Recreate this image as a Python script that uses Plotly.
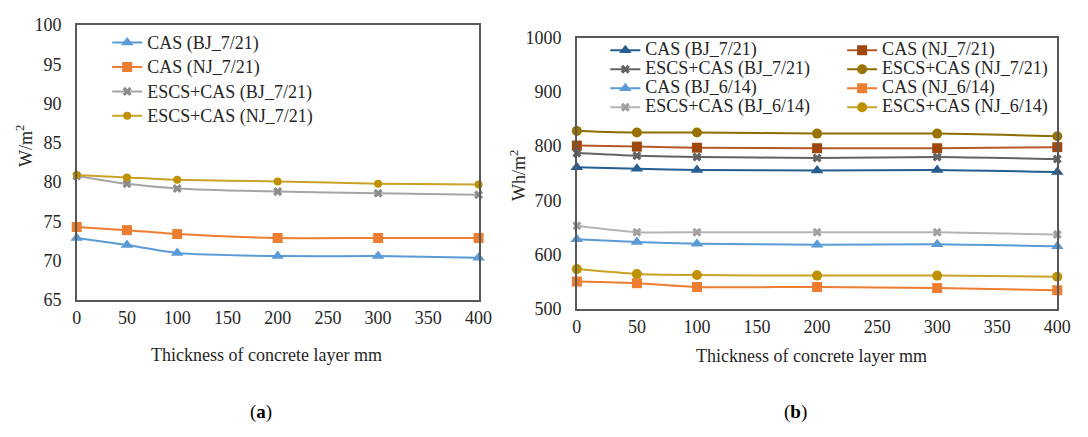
import plotly.graph_objects as go

W, H = 1088, 437

# ---------------- data ----------------
thickness = [0, 50, 100, 200, 300, 400]

# (a) W/m2
a_cas_bj_721 = [72.9, 72.0, 71.0, 70.6, 70.6, 70.4]
a_cas_nj_721 = [74.3, 73.9, 73.4, 72.9, 72.9, 72.9]
a_escs_bj_721 = [80.8, 79.8, 79.2, 78.8, 78.6, 78.4]
a_escs_nj_721 = [80.9, 80.6, 80.3, 80.1, 79.8, 79.7]

# (b) Wh/m2
b_cas_bj_721 = [761, 758, 756, 755, 756, 752]
b_cas_nj_721 = [801, 799, 797, 796, 796, 798]
b_escs_bj_721 = [787, 782, 780, 778, 780, 776]
b_escs_nj_721 = [828, 825, 825, 823, 823, 818]
b_cas_bj_614 = [628, 623, 620, 618, 619, 615]
b_cas_nj_614 = [550, 547, 540, 540, 538, 534]
b_escs_bj_614 = [653, 641, 641, 641, 641, 637]
b_escs_nj_614 = [573, 564, 562, 561, 561, 559]

x_ticks = [0, 50, 100, 150, 200, 250, 300, 350, 400]

FONT = "Liberation Serif"
TXT = "#262626"

fig = go.Figure()


def lab(t, size=18):
    return f'<span style="font-size:{size}px">{t}</span>'


def add(x, y, name, color, symbol, msize, xa, ya, legend, mcolor=None):
    fig.add_trace(go.Scatter(
        x=x, y=y, name=lab(name), mode="lines+markers",
        line=dict(color=color, width=2, shape="spline", smoothing=0.6),
        marker=dict(symbol=symbol, size=msize, color=mcolor or color,
                    line=dict(width=0)),
        xaxis=xa, yaxis=ya, legend=legend, cliponaxis=False,
    ))


# (a)
add(thickness, a_cas_bj_721, "CAS (BJ_7/21)", "#5B9BD5", "triangle-up", 11, "x", "y", "legend")
add(thickness, a_cas_nj_721, "CAS (NJ_7/21)", "#ED7D31", "square", 10, "x", "y", "legend")
add(thickness, a_escs_bj_721, "ESCS+CAS (BJ_7/21)", "#A5A5A5", "x", 8, "x", "y", "legend", "#8C8C8C")
add(thickness, a_escs_nj_721, "ESCS+CAS (NJ_7/21)", "#C9A227", "circle", 8, "x", "y", "legend", "#BF9000")

# (b)
add(thickness, b_cas_bj_721, "CAS (BJ_7/21)", "#255E91", "triangle-up", 11, "x2", "y2", "legend2")
add(thickness, b_cas_nj_721, "CAS (NJ_7/21)", "#B5592A", "square", 10, "x2", "y2", "legend3", "#9E480E")
add(thickness, b_escs_bj_721, "ESCS+CAS (BJ_7/21)", "#636363", "x", 8, "x2", "y2", "legend2")
add(thickness, b_escs_nj_721, "ESCS+CAS (NJ_7/21)", "#8C6D00", "circle", 10, "x2", "y2", "legend3", "#997300")
add(thickness, b_cas_bj_614, "CAS (BJ_6/14)", "#5B9BD5", "triangle-up", 11, "x2", "y2", "legend2")
add(thickness, b_cas_nj_614, "CAS (NJ_6/14)", "#ED7D31", "square", 10, "x2", "y2", "legend3")
add(thickness, b_escs_bj_614, "ESCS+CAS (BJ_6/14)", "#B4B4B4", "x", 8, "x2", "y2", "legend2", "#A0A0A0")
add(thickness, b_escs_nj_614, "ESCS+CAS (NJ_6/14)", "#C9A227", "circle", 10, "x2", "y2", "legend3", "#BF9000")


def px_x(v):
    return v / W


def px_y(v):
    return 1 - v / H


axis_common = dict(
    showgrid=False, zeroline=False, showline=True, mirror=True,
    linecolor="#595959", linewidth=1.5,
    ticks="outside", tickcolor="rgba(0,0,0,0)",
    tickfont=dict(family=FONT, size=18, color=TXT),
)


def note(text, x, y, size=18, angle=0, color=TXT):
    return dict(text=text, x=px_x(x), y=px_y(y), xref="paper", yref="paper",
                xanchor="center", yanchor="middle", textangle=angle,
                showarrow=False, font=dict(family=FONT, size=size, color=color))


fig.update_layout(
    width=W, height=H,
    margin=dict(l=0, r=0, t=0, b=0),
    paper_bgcolor="white", plot_bgcolor="white",
    font=dict(family=FONT, color=TXT),
    xaxis=dict(domain=[px_x(73), px_x(482)], range=[0, 400], tickvals=x_ticks,
               ticklen=1, anchor="y", **axis_common),
    yaxis=dict(domain=[px_y(304), px_y(15.7)], range=[65, 100], dtick=5,
               ticklen=10, anchor="x", **axis_common),
    xaxis2=dict(domain=[px_x(582), px_x(1071)], range=[0, 400], tickvals=x_ticks,
                ticklen=1, anchor="y2", **axis_common),
    yaxis2=dict(domain=[px_y(313), px_y(29)], range=[500, 1000], dtick=100,
                ticklen=10, anchor="x2", **axis_common),
    legend=dict(x=px_x(104), y=px_y(16), xanchor="left", yanchor="top",
                bgcolor="rgba(0,0,0,0)", font=dict(family=FONT, size=16.5, color=TXT),
                itemwidth=30, tracegroupgap=0),
    legend2=dict(x=px_x(611), y=px_y(27), xanchor="left", yanchor="top",
                 bgcolor="rgba(0,0,0,0)", font=dict(family=FONT, size=12, color=TXT),
                 itemwidth=30, tracegroupgap=0),
    legend3=dict(x=px_x(852), y=px_y(27), xanchor="left", yanchor="top",
                 bgcolor="rgba(0,0,0,0)", font=dict(family=FONT, size=12, color=TXT),
                 itemwidth=30, tracegroupgap=0),
    annotations=[
        note("W/m<sup>2</sup>", 20, 143, angle=-90),
        note("Wh/m<sup>2</sup>", 522, 173, angle=-90),
        note("Thickness of concrete layer mm", 266, 362),
        note("Thickness of concrete layer mm", 821, 363),
        note("(<b>a</b>)", 261, 421, size=19, color="#000"),
        note("(<b>b</b>)", 805, 421, size=19, color="#000"),
    ],
)

fig.write_html("out.html")
